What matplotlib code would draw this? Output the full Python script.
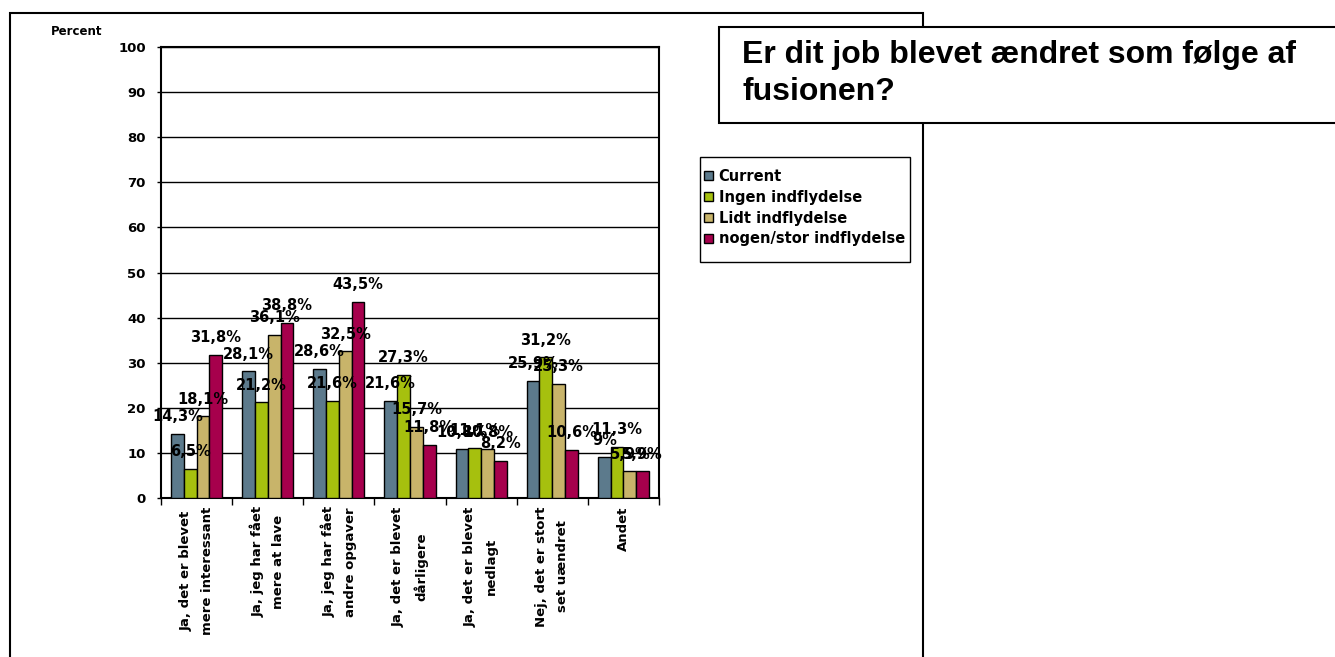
import numpy as np
import matplotlib
matplotlib.use('Agg')
import matplotlib.pyplot as plt
from matplotlib.patches import Rectangle

# survey answers, percent per group
categories = [
	'Ja, det er blevet\nmere interessant',
	'Ja, jeg har fået\nmere at lave',
	'Ja, jeg har fået\nandre opgaver',
	'Ja, det er blevet\ndårligere',
	'Ja, det er blevet\nnedlagt',
	'Nej, det er stort\nset uændret',
	'Andet',
]
seriesNames = ['Current', 'Ingen indflydelse', 'Lidt indflydelse', 'nogen/stor indflydelse']
current = [14.3, 28.1, 28.6, 21.6, 10.8, 25.9, 9.0]
ingen = [6.5, 21.2, 21.6, 27.3, 11.1, 31.2, 11.3]
lidt = [18.1, 36.1, 32.5, 15.7, 10.8, 25.3, 5.9]
nogen = [31.8, 38.8, 43.5, 11.8, 8.2, 10.6, 5.9]
yTicks = list(range(0, 101, 10))

colors = ['#5c7a8c', '#a6c00e', '#c8b46a', '#a6004c']

W, H = 1335, 657
plt.rcParams['font.family'] = ['DejaVu Sans']
plt.rcParams['font.weight'] = 'bold'

fig = plt.figure(figsize=(W / 100, H / 100), dpi=100)
ax = fig.add_axes([161 / W, 1 - 498 / H, (659 - 161) / W, (498 - 47) / H])

def fmtPct(v):
	return ('%g' % v).replace('.', ',') + '%'

x = np.arange(len(categories))
barW = 0.18
for i, (name, vals) in enumerate(zip(seriesNames, [current, ingen, lidt, nogen])):
	bars = ax.bar(x + (i - 1.5) * barW, vals, barW, color=colors[i], edgecolor='black',
		linewidth=1.0, label=name, zorder=3)
	ax.bar_label(bars, labels=[fmtPct(v) for v in vals], padding=7, fontsize=10.5,
		fontweight='bold', zorder=4)

ax.set_xlim(-0.5, len(categories) - 0.5)
ax.set_ylim(0, 100)
ax.set_yticks(yTicks)
ax.yaxis.grid(True, color='black', linewidth=1.0, zorder=0)
ax.set_axisbelow(True)
ax.tick_params(axis='y', direction='out', length=3, width=1, pad=8, labelsize=9.5)

# boundary ticks between groups, labels at group centres
ax.set_xticks(np.arange(len(categories) + 1) - 0.5)
ax.set_xticklabels([])
ax.tick_params(axis='x', which='major', direction='out', length=5, width=1)
ax.set_xticks(x, minor=True)
ax.set_xticklabels(categories, minor=True, rotation=90, ha='center', va='top',
	multialignment='center', linespacing=1.8, fontsize=9.5, fontweight='bold')
ax.tick_params(axis='x', which='minor', length=0, pad=6)

for sp in ax.spines.values():
	sp.set_linewidth(1.5)
	sp.set_color('black')

fig.text(51 / W, 1 - 35 / H, 'Percent', fontsize=8.5, fontweight='bold', va='baseline')

# chart frame (runs off the bottom) and the title box on top of it
fig.patches.append(Rectangle((10 / W, -0.1), (923 - 10) / W, (657 - 13) / H + 0.1,
	transform=fig.transFigure, fill=False, edgecolor='black', linewidth=1.5, zorder=1))
fig.patches.append(Rectangle((719 / W, 1 - 123 / H), (1345 - 719) / W, (123 - 27) / H,
	transform=fig.transFigure, facecolor='white', edgecolor='black', linewidth=1.5, zorder=2))
fig.text(742 / W, 1 - 40 / H, 'Er dit job blevet ændret som følge af\nfusionen?',
	family='Liberation Sans', fontsize=23, fontweight='bold', va='top', ha='left',
	linespacing=1.3, zorder=3)

# legend box drawn separately (below the axes) so the padding can differ per side
fig.patches.append(Rectangle((700 / W, 1 - 262 / H), (910 - 700) / W, (262 - 157) / H,
	transform=fig.transFigure, facecolor='white', edgecolor='black', linewidth=1.0, zorder=-1))
leg = ax.legend(loc='upper left', bbox_to_anchor=(704 / W, 1 - 169 / H),
	bbox_transform=fig.transFigure, borderaxespad=0, fontsize=10.5, frameon=False,
	handlelength=0.6, handleheight=0.6, handletextpad=0.4, labelspacing=0.4, borderpad=0)
for t in leg.get_texts():
	t.set_fontweight('bold')

fig.savefig('out.png', dpi=100)
